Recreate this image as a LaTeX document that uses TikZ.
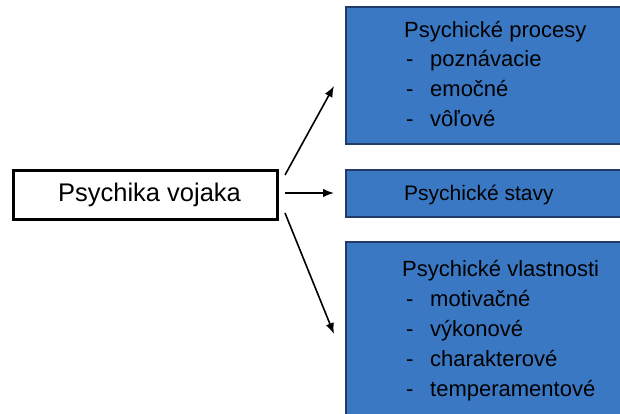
\documentclass[tikz,border=0pt]{standalone}
\usepackage{fontspec}
\setmainfont{Liberation Sans}
\usetikzlibrary{arrows.meta}
\definecolor{boxblue}{RGB}{58,120,196}
\definecolor{boxedge}{RGB}{33,60,104}
\begin{document}
\begin{tikzpicture}[x=1pt,y=-1pt,
  txt/.style={font=\fontsize{22}{26}\selectfont, inner sep=0pt, anchor=base west},
  bluebox/.style={draw=boxedge, line width=2pt, fill=boxblue, inner sep=0pt, minimum width=294pt},
  mainbox/.style={draw=black, line width=3pt, fill=white, inner sep=0pt, minimum width=264pt, minimum height=49pt},
  conn/.style={line width=1.6pt, -{Latex[length=11pt,width=8.5pt]}}]
\useasboundingbox (0,0) rectangle (620,414);
\clip (0,0) rectangle (620,414);
\fill[white] (0,0) rectangle (620,414);
% main box
\node[mainbox] (soul) at (145,194.5) {};
\node[txt, font=\fontsize{25.5}{30}\selectfont, anchor=base] (soultxt) at (149.5,201) {Psychika vojaka};
% blue boxes
\node[bluebox, minimum height=137pt] (proc) at (493,75.5) {};
\node[bluebox, minimum height=47pt] (stav) at (493,193.5) {};
\node[bluebox, minimum height=198pt] (vlast) at (493,341) {};
% texts top
\node[txt] (p0) at (404,38) {Psychické procesy};
\node[txt] (p1d) at (406,67) {-};
\node[txt] (p1) at (430,67) {poznávacie};
\node[txt] (p2d) at (406,97) {-};
\node[txt] (p2) at (430,97) {emočné};
\node[txt] (p3d) at (406,127) {-};
\node[txt] (p3) at (430,127) {vôľové};
% middle
\node[txt, font=\fontsize{21}{25}\selectfont] (s0) at (404,200) {Psychické stavy};
% bottom
\node[txt] (v0) at (402,276) {Psychické vlastnosti};
\node[txt] (v1d) at (406,306) {-};
\node[txt] (v1) at (430,306) {motivačné};
\node[txt] (v2d) at (406,336) {-};
\node[txt] (v2) at (430,336) {výkonové};
\node[txt] (v3d) at (406,366) {-};
\node[txt] (v3) at (430,366) {charakterové};
\node[txt] (v4d) at (406,396) {-};
\node[txt] (v4) at (430,396) {temperamentové};
% connectors
\coordinate (a1s) at (285,175);
\coordinate (a1e) at (334,86);
\coordinate (a2s) at (285,193);
\coordinate (a2e) at (334,193);
\coordinate (a3s) at (285,213);
\coordinate (a3e) at (334,334);
\draw[conn] (a1s) -- (a1e);
\draw[conn] (a2s) -- (a2e);
\draw[conn] (a3s) -- (a3e);
\end{tikzpicture}
\end{document}
